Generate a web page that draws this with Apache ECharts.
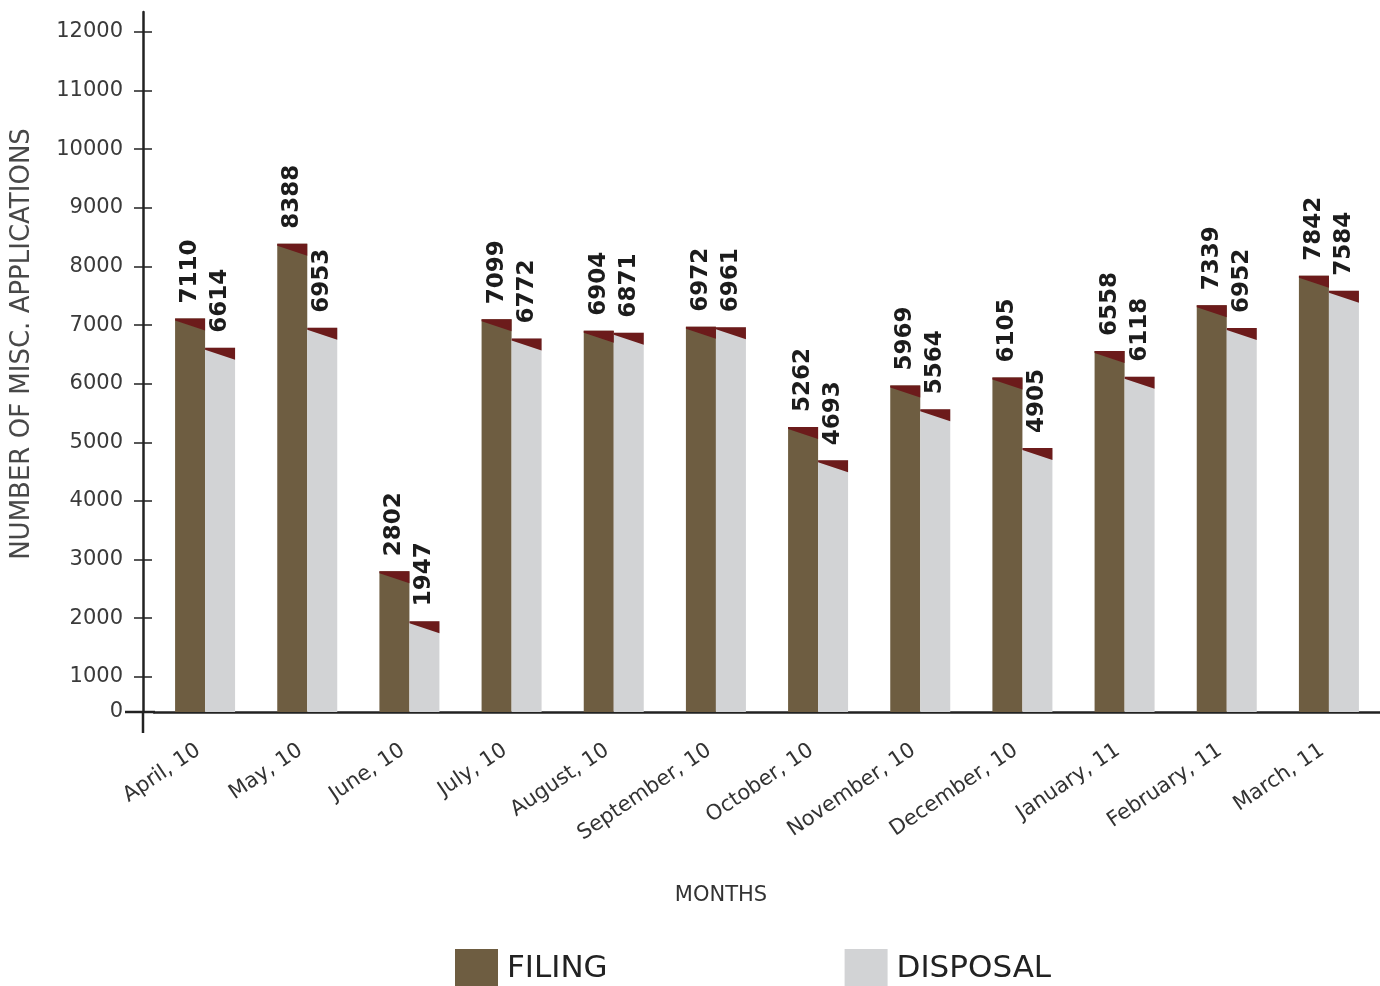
<!DOCTYPE html>
<html><head><meta charset="utf-8">
<script src="https://cdn.jsdelivr.net/npm/echarts@6/dist/echarts.min.js"></script>
<style>html,body{margin:0;padding:0;background:#fff}#c{width:1380px;height:986px}</style>
</head><body><div id="c"></div>
<script>
const months = ['April, 10','May, 10','June, 10','July, 10','August, 10','September, 10','October, 10','November, 10','December, 10','January, 11','February, 11','March, 11'];
const filing = [7110,8388,2802,7099,6904,6972,5262,5969,6105,6558,7339,7842];
const disposal = [6614,6953,1947,6772,6871,6961,4693,5564,4905,6118,6952,7584];
const yTicks = [0,1000,2000,3000,4000,5000,6000,7000,8000,9000,10000,11000,12000];
// the reference draws its baseline (labelled "0") at about value 400 of its tick scale
const AXIS_BASE = 400;
const AXIS_TOP = 12340;

const FONT = 'DejaVu Sans';
const tickPos = yTicks.map(v => v === 0 ? AXIS_BASE : v);
const BAR_W = 30;

function capRenderer(side) {
  return function (params, api) {
    const p = api.coord([api.value(0), api.value(1)]);
    const x0 = side < 0 ? p[0] - BAR_W : p[0];
    const x1 = x0 + BAR_W;
    const t = p[1];
    return {
      type: 'polygon',
      shape: { points: [[x0, t], [x1, t], [x1, t + 12], [x0, t + 2]] },
      style: { fill: '#6c1b1b' }
    };
  };
}

const valueLabel = {
  show: true, position: 'top', rotate: 90, align: 'left', verticalAlign: 'middle',
  distance: 15, fontFamily: FONT, fontWeight: 'bold', fontSize: 23, color: '#1c1c1c'
};

const yAxisBase = {
  type: 'value', min: AXIS_BASE, max: AXIS_TOP, position: 'left', offset: 11,
  splitLine: { show: false }
};

const chart = echarts.init(document.getElementById('c'), null, { renderer: 'canvas' });
chart.setOption({
  animation: false,
  backgroundColor: '#ffffff',
  grid: { left: 154, right: -4, top: 12, bottom: 274 },
  legend: {
    data: ['FILING', 'DISPOSAL'], left: 450, top: 944, icon: 'rect',
    itemWidth: 43, itemHeight: 40, itemGap: 237,
    textStyle: { fontFamily: FONT, fontSize: 31, color: '#222', padding: [0, 0, 0, 4] }
  },
  xAxis: {
    type: 'category', data: months,
    axisLine: { lineStyle: { color: '#222', width: 2.5 } },
    axisTick: { show: false },
    axisLabel: { interval: 0, rotate: 34, margin: 32, fontFamily: FONT, fontSize: 21, color: '#333',
      padding: [0, 8, 0, 0] }
  },
  yAxis: [
    Object.assign({}, yAxisBase, {
      axisLine: { show: true, lineStyle: { color: '#222', width: 2.5 } },
      axisTick: { show: true, length: 9, customValues: tickPos, lineStyle: { color: '#222', width: 1.5 } },
      axisLabel: {
        margin: 20, customValues: tickPos, fontFamily: FONT, fontSize: 21, color: '#3a3a3a',
        formatter: v => (v === AXIS_BASE ? '0' : String(v))
      }
    }),
    Object.assign({}, yAxisBase, {
      axisLine: { show: false },
      axisTick: { show: true, inside: true, length: 9, customValues: tickPos, lineStyle: { color: '#222', width: 1.5 } },
      axisLabel: { show: false }
    })
  ],
  graphic: [
    { type: 'text', x: 22, y: 344, rotation: Math.PI / 2,
      style: { text: 'NUMBER OF MISC. APPLICATIONS', fontFamily: FONT, fontSize: 26, fill: '#484848', align: 'center', verticalAlign: 'middle' } },
    { type: 'text', x: 721, y: 896,
      style: { text: 'MONTHS', fontFamily: FONT, fontSize: 21, fill: '#333', align: 'center', verticalAlign: 'middle' } },
    { type: 'line', shape: { x1: 125, y1: 712, x2: 155, y2: 712 }, style: { stroke: '#222', lineWidth: 2.5 } },
    { type: 'line', shape: { x1: 143, y1: 712, x2: 143, y2: 733 }, style: { stroke: '#222', lineWidth: 2.5 } }
  ],
  series: [
    { name: 'FILING', type: 'bar', data: filing, barWidth: BAR_W, barGap: '0%', clip: true,
      itemStyle: { color: '#6e5d41' }, label: valueLabel },
    { name: 'DISPOSAL', type: 'bar', data: disposal, barWidth: BAR_W, barGap: '0%', clip: true,
      itemStyle: { color: '#d2d3d5' }, label: valueLabel },
    { name: 'filing cap', type: 'custom', z: 5, renderItem: capRenderer(-1),
      encode: { x: 0, y: 1 }, data: filing.map((v, i) => [i, v]) },
    { name: 'disposal cap', type: 'custom', z: 5, renderItem: capRenderer(1),
      encode: { x: 0, y: 1 }, data: disposal.map((v, i) => [i, v]) }
  ]
});
</script>
</body></html>
